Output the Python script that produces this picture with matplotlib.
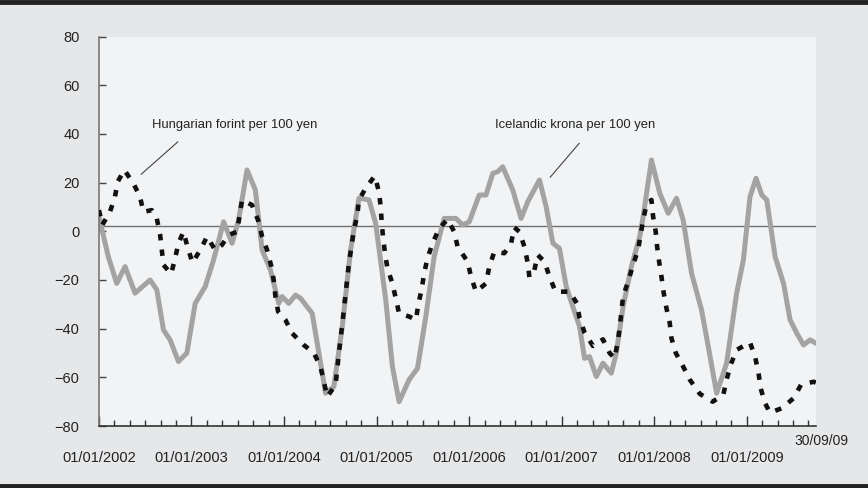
import numpy as np
import matplotlib
matplotlib.use("Agg")
import matplotlib.pyplot as plt
from matplotlib import font_manager

# Pick a narrow sans if we have one
installed = {f.name for f in font_manager.fontManager.ttflist}
font = next((f for f in ["Liberation Sans Narrow", "Arial Narrow", "Liberation Sans"] if f in installed), "DejaVu Sans")
plt.rcParams['font.family'] = [font, 'DejaVu Sans']

# Data (decimal years, % change)
krona_t = [2002.000, 2002.101, 2002.192, 2002.282, 2002.390, 2002.553, 2002.625, 2002.697,
           2002.769, 2002.859, 2002.950, 2003.040, 2003.148, 2003.238, 2003.347, 2003.438,
           2003.509, 2003.600, 2003.690, 2003.763, 2003.853, 2003.943, 2003.979, 2004.051,
           2004.124, 2004.178, 2004.304, 2004.376, 2004.449, 2004.538, 2004.630, 2004.719,
           2004.809, 2004.918, 2004.990, 2005.099, 2005.171, 2005.243, 2005.351, 2005.442,
           2005.532, 2005.622, 2005.730, 2005.857, 2005.930, 2006.001, 2006.109, 2006.182,
           2006.255, 2006.309, 2006.363, 2006.471, 2006.561, 2006.634, 2006.760, 2006.832,
           2006.905, 2006.976, 2007.049, 2007.121, 2007.193, 2007.247, 2007.301, 2007.374,
           2007.446, 2007.536, 2007.590, 2007.663, 2007.753, 2007.843, 2007.880, 2007.970,
           2008.060, 2008.151, 2008.241, 2008.313, 2008.403, 2008.511, 2008.584, 2008.674,
           2008.782, 2008.890, 2008.963, 2009.035, 2009.100, 2009.162, 2009.216, 2009.306,
           2009.397, 2009.468, 2009.541, 2009.613, 2009.685, 2009.747]
krona = [6.0, -10.4, -21.4, -14.5, -25.4, -20.0, -24.0, -40.5,
         -44.6, -53.5, -50.0, -29.6, -22.7, -11.8, 3.9, -4.9,
         4.6, 25.2, 17.0, -7.7, -15.9, -29.6, -26.8, -29.6,
         -26.2, -27.5, -33.7, -50.0, -66.5, -63.8, -39.0, -7.7,
         13.6, 12.9, 3.3, -28.2, -55.6, -70.0, -61.0, -56.3,
         -35.0, -10.4, 5.3, 5.3, 2.6, 3.9, 14.9, 14.9,
         23.8, 24.5, 26.5, 17.0, 5.3, 12.2, 21.1, 10.1,
         -4.9, -7.0, -22.7, -31.0, -39.2, -52.2, -51.5, -59.7,
         -54.2, -58.3, -50.0, -31.0, -14.5, -2.2, 6.0, 29.3,
         15.6, 7.4, 13.6, 4.6, -17.2, -32.3, -47.4, -66.5,
         -54.2, -25.5, -11.8, 14.2, 21.8, 14.9, 12.9, -10.4,
         -21.4, -36.4, -41.9, -46.7, -44.6, -46.0]

forint_t = [2002.000, 2002.036, 2002.119, 2002.173, 2002.203, 2002.274, 2002.372, 2002.444,
            2002.480, 2002.571, 2002.625, 2002.661, 2002.679, 2002.697, 2002.780, 2002.823,
            2002.859, 2002.913, 2002.961, 2003.011, 2003.105, 2003.167, 2003.257, 2003.329,
            2003.401, 2003.492, 2003.546, 2003.654, 2003.726, 2003.763, 2003.817, 2003.863,
            2003.888, 2003.907, 2003.936, 2004.015, 2004.088, 2004.213, 2004.322, 2004.394,
            2004.430, 2004.467, 2004.557, 2004.593, 2004.630, 2004.665, 2004.701, 2004.755,
            2004.792, 2004.809, 2004.882, 2004.979, 2005.026, 2005.044, 2005.055, 2005.069,
            2005.091, 2005.117, 2005.171, 2005.207, 2005.243, 2005.351, 2005.424, 2005.453,
            2005.489, 2005.514, 2005.550, 2005.605, 2005.676, 2005.767, 2005.839, 2005.875,
            2005.984, 2006.020, 2006.074, 2006.182, 2006.218, 2006.272, 2006.380, 2006.453,
            2006.489, 2006.543, 2006.597, 2006.634, 2006.651, 2006.705, 2006.742, 2006.814,
            2006.868, 2006.933, 2007.085, 2007.165, 2007.193, 2007.247, 2007.338, 2007.446,
            2007.518, 2007.572, 2007.609, 2007.628, 2007.663, 2007.717, 2007.771, 2007.825,
            2007.880, 2007.915, 2007.970, 2007.988, 2008.016, 2008.031, 2008.053, 2008.078,
            2008.103, 2008.132, 2008.168, 2008.186, 2008.233, 2008.313, 2008.385, 2008.493,
            2008.631, 2008.746, 2008.782, 2008.825, 2008.890, 2009.035, 2009.089, 2009.125,
            2009.150, 2009.197, 2009.251, 2009.378, 2009.505, 2009.585, 2009.722, 2009.747]
forint = [8.7, 2.6, 8.0, 14.2, 20.4, 25.2, 19.7, 14.2,
          8.0, 8.7, 5.3, -1.5, -7.7, -13.8, -17.5, -11.1,
          -4.9, -0.2, -7.0, -12.9, -7.0, -2.2, -7.7, -5.6,
          -1.5, -0.2, 12.9, 10.8, 3.9, -2.2, -7.7, -14.5,
          -20.0, -26.8, -33.0, -36.4, -41.9, -46.7, -50.0, -55.6,
          -61.8, -67.9, -63.1, -50.0, -37.8, -25.5, -13.1, 0.5,
          6.7, 12.9, 17.7, 22.7, 16.3, 10.1, 3.9, -2.2,
          -9.0, -15.2, -21.4, -27.5, -33.7, -35.0, -36.4, -29.6,
          -23.4, -17.2, -11.1, -4.9, 1.2, 4.9, -0.2, -6.3,
          -12.5, -18.6, -24.8, -21.4, -14.5, -8.4, -9.0, -4.9,
          1.6, -0.2, -6.3, -13.1, -18.9, -15.9, -9.7, -12.5,
          -18.6, -24.8, -24.8, -29.6, -35.7, -41.6, -47.1, -44.4,
          -50.0, -52.2, -44.6, -39.2, -26.8, -20.7, -13.8, -7.7,
          4.6, 10.8, 12.9, 6.0, -0.2, -6.3, -12.5, -18.6,
          -25.5, -31.6, -37.8, -43.9, -50.0, -55.6, -61.0, -66.8,
          -70.0, -67.2, -61.0, -54.9, -48.7, -45.7, -51.5, -57.7,
          -64.5, -70.6, -74.5, -72.7, -68.6, -63.1, -61.8, -62.2]

year_ticks = list(range(2002, 2010))
year_labels = ["01/01/%d" % y for y in year_ticks]
end_t = 2009.747
end_label = "30/09/09"
ref_level = 2.2

fig = plt.figure(figsize=(8.68, 4.88), dpi=100, facecolor="#e6e7e9")
ax = fig.add_axes([0.114, 0.127, 0.826, 0.798])
ax.set_facecolor("#f2f3f5")

# top/bottom rules
fig.add_artist(plt.Line2D([0, 1], [0.995, 0.995], color="#222222", lw=3.5))
fig.add_artist(plt.Line2D([0, 1], [0.005, 0.005], color="#222222", lw=3.5))

ax.axhline(ref_level, color="#707070", lw=1.0, zorder=1)
ax.plot(krona_t, krona, color="#a3a3a3", lw=3.6, solid_capstyle="round", zorder=2)
ax.plot(forint_t, forint, color="#111111", lw=3.3, linestyle=(0, (1.4, 2.0)),
        dash_capstyle="butt", zorder=3)

ax.set_xlim(2002.0, end_t)
ax.set_ylim(-80, 80)
ax.set_yticks(range(-80, 81, 20))
ax.set_xticks(year_ticks)
ax.set_xticklabels(year_labels)
ax.set_xticks(np.arange(2002, end_t + 0.01, 1 / 6), minor=True)

for s in ["top", "right"]:
    ax.spines[s].set_visible(False)
ax.spines["left"].set_color("#777777")
ax.spines["left"].set_linewidth(1.2)
ax.spines["bottom"].set_color("#333333")
ax.spines["bottom"].set_linewidth(1.2)

ax.tick_params(axis="y", direction="in", length=5, width=1, color="#444444",
               labelsize=10.5, pad=14, labelcolor="#222222")
ax.tick_params(axis="x", which="major", direction="in", length=7, width=1, color="#333333",
               labelsize=10.5, pad=18, labelcolor="#222222")
ax.tick_params(axis="x", which="minor", direction="in", length=4, width=1, color="#333333")

ax.annotate(end_label, xy=(end_t, -80), xytext=(4, -6), textcoords="offset points",
            ha="center", va="top", fontsize=10, color="#222222", annotation_clip=False)

# series labels with leader lines
ax.text(2002.575, 43.6, "Hungarian forint per 100 yen", fontsize=9.4, color="#222222",
        va="center", ha="left")
ax.annotate("", xy=(2002.455, 23.4), xytext=(2002.853, 36.8),
            arrowprops=dict(arrowstyle="-", color="#444444", lw=0.8, shrinkA=0, shrinkB=0))
ax.text(2006.28, 43.6, "Icelandic krona per 100 yen", fontsize=9.4, color="#222222",
        va="center", ha="left")
ax.annotate("", xy=(2006.875, 22.2), xytext=(2007.19, 36.2),
            arrowprops=dict(arrowstyle="-", color="#444444", lw=0.8, shrinkA=0, shrinkB=0))

fig.savefig("out.png", dpi=100, facecolor=fig.get_facecolor())
